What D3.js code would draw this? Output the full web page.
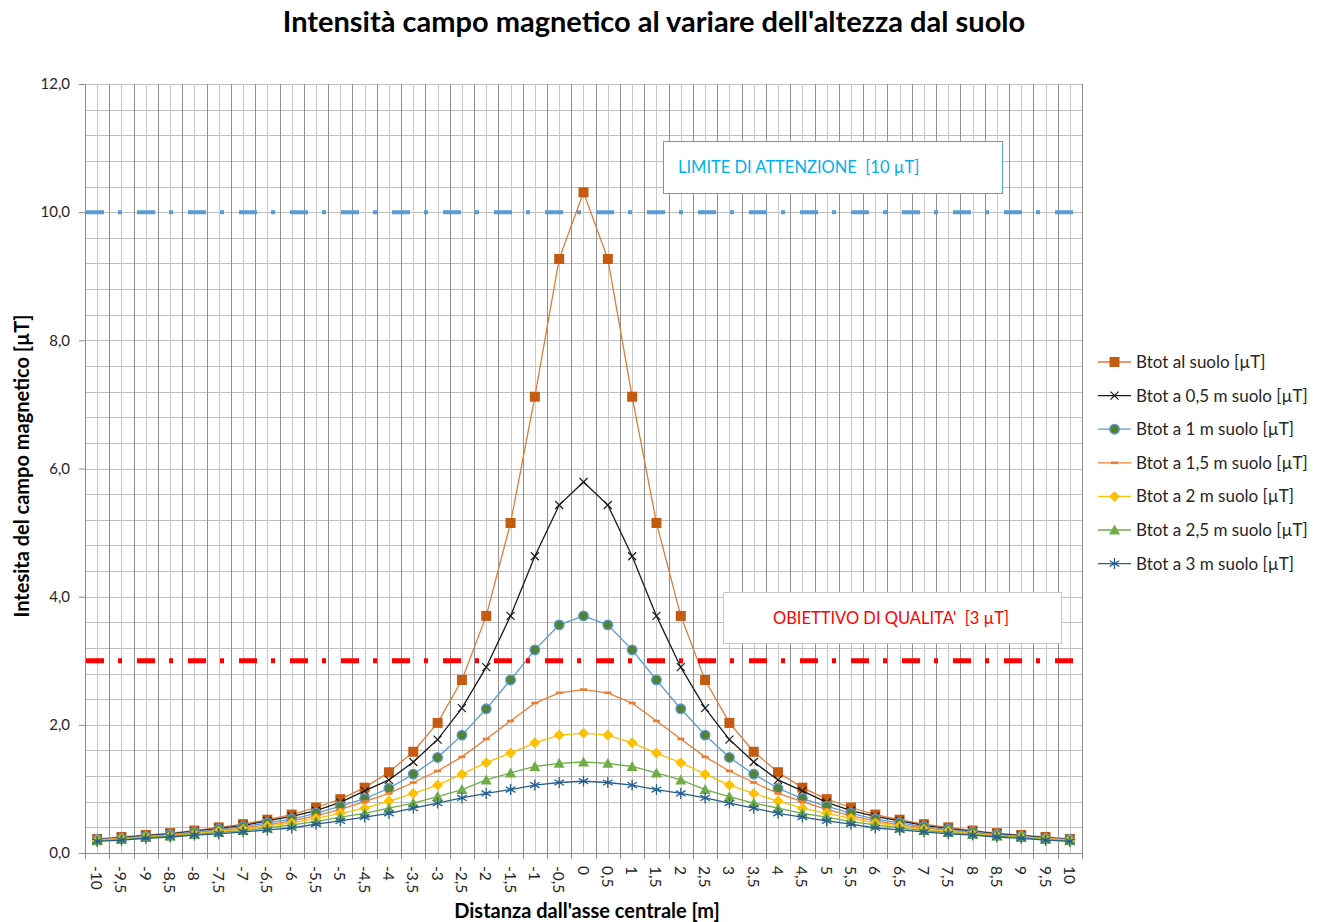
<!DOCTYPE html>
<html>
<head>
<meta charset="utf-8">
<script src="https://cdn.jsdelivr.net/npm/d3@7"></script>
<style>
  body { margin: 0; background: #fff; }
  svg { font-family: Lato, 'Open Sans', sans-serif; }
</style>
</head>
<body>
<svg></svg>
<script>
const categories = ['-10','-9,5','-9','-8,5','-8','-7,5','-7','-6,5','-6','-5,5','-5','-4,5','-4','-3,5','-3','-2,5','-2','-1,5','-1','-0,5','0',
  '0,5','1','1,5','2','2,5','3','3,5','4','4,5','5','5,5','6','6,5','7','7,5','8','8,5','9','9,5','10']

const btotSuolo = [0.22,0.25,0.28,0.31,0.35,0.40,0.45,0.52,0.60,0.71,0.84,1.02,1.26,1.58,2.03,2.70,3.70,5.15,7.12,9.27,10.31,
  9.27,7.12,5.15,3.70,2.70,2.03,1.58,1.26,1.02,0.84,0.71,0.60,0.52,0.45,0.40,0.35,0.31,0.28,0.25,0.22]
const btot05 = [0.21,0.24,0.27,0.30,0.34,0.38,0.43,0.50,0.57,0.66,0.79,0.97,1.14,1.42,1.77,2.26,2.90,3.70,4.63,5.43,5.79,
  5.43,4.63,3.70,2.90,2.26,1.77,1.42,1.14,0.97,0.79,0.66,0.57,0.50,0.43,0.38,0.34,0.30,0.27,0.24,0.21]
const btot1 = [0.21,0.23,0.26,0.29,0.33,0.37,0.41,0.47,0.53,0.62,0.73,0.85,1.01,1.23,1.49,1.84,2.25,2.70,3.17,3.56,3.70,
  3.56,3.17,2.70,2.25,1.84,1.49,1.23,1.01,0.85,0.73,0.62,0.53,0.47,0.41,0.37,0.33,0.29,0.26,0.23,0.21]
const btot15 = [0.20,0.23,0.25,0.28,0.32,0.35,0.39,0.44,0.50,0.58,0.68,0.80,0.93,1.10,1.28,1.50,1.78,2.06,2.34,2.50,2.55,
  2.50,2.34,2.06,1.78,1.50,1.28,1.10,0.93,0.80,0.68,0.58,0.50,0.44,0.39,0.35,0.32,0.28,0.25,0.23,0.20]
const btot2 = [0.20,0.22,0.25,0.27,0.30,0.34,0.37,0.42,0.47,0.54,0.62,0.70,0.81,0.93,1.06,1.23,1.41,1.56,1.72,1.84,1.87,
  1.84,1.72,1.56,1.41,1.23,1.06,0.93,0.81,0.70,0.62,0.54,0.47,0.42,0.37,0.34,0.30,0.27,0.25,0.22,0.20]
const btot25 = [0.19,0.21,0.24,0.26,0.29,0.32,0.35,0.39,0.44,0.49,0.56,0.62,0.70,0.78,0.88,0.99,1.14,1.25,1.35,1.40,1.42,
  1.40,1.35,1.25,1.14,0.99,0.88,0.78,0.70,0.62,0.56,0.49,0.44,0.39,0.35,0.32,0.29,0.26,0.24,0.21,0.19]
const btot3 = [0.18,0.20,0.23,0.25,0.28,0.30,0.33,0.36,0.39,0.45,0.50,0.56,0.62,0.70,0.78,0.86,0.93,0.99,1.06,1.10,1.12,
  1.10,1.06,0.99,0.93,0.86,0.78,0.70,0.62,0.56,0.50,0.45,0.39,0.36,0.33,0.30,0.28,0.25,0.23,0.20,0.18]

const seriesNames = ['Btot al suolo [µT]','Btot a 0,5 m suolo [µT]','Btot a 1 m suolo [µT]','Btot a 1,5 m suolo [µT]',
  'Btot a 2 m suolo [µT]','Btot a 2,5 m suolo [µT]','Btot a 3 m suolo [µT]']
const seriesValues = [btotSuolo, btot05, btot1, btot15, btot2, btot25, btot3]
const yTicks = [0, 2, 4, 6, 8, 10, 12]
const limitValues = [10, 3]
const limitLabels = ['LIMITE DI ATTENZIONE  [10 µT]', "OBIETTIVO DI QUALITA'  [3 µT]"]

const width = 1330
const height = 922
const plotLeft = 85, plotRight = 1082, plotTop = 84, plotBottom = 853

// line colour, marker fill, marker stroke, marker kind
const styles = [
  { line: '#e07b39', fill: '#c55a11', stroke: '#c55a11', kind: 'square' },
  { line: '#1a1a1a', fill: 'none', stroke: '#1a1a1a', kind: 'x' },
  { line: '#5b9bd5', fill: '#548235', stroke: '#5b9bd5', kind: 'circle' },
  { line: '#ed7d31', fill: '#ed7d31', stroke: '#ed7d31', kind: 'dash' },
  { line: '#ffc000', fill: '#ffc000', stroke: '#ffc000', kind: 'diamond' },
  { line: '#70ad47', fill: '#70ad47', stroke: '#70ad47', kind: 'triangle' },
  { line: '#255e91', fill: 'none', stroke: '#255e91', kind: 'star' },
]

const svg = d3.select('svg')
  .attr('width', width)
  .attr('height', height)

const x = d3.scaleBand()
  .domain(categories)
  .range([plotLeft, plotRight])

const y = d3.scaleLinear()
  .domain([0, 12])
  .range([plotBottom, plotTop])

const cx = d => x(d) + x.bandwidth() / 2

// horizontal grid every 0.4
const hGrid = d3.range(0, 12.01, 0.4)
svg.append('g').selectAll('line')
  .data(hGrid)
  .enter()
  .append('line')
  .attr('x1', plotLeft).attr('x2', plotRight)
  .attr('y1', d => Math.round(y(d)) + 0.5).attr('y2', d => Math.round(y(d)) + 0.5)
  .attr('stroke', '#bfbfbf')

// vertical grid: light at category centres, darker at boundaries
svg.append('g').selectAll('line')
  .data(categories)
  .enter()
  .append('line')
  .attr('x1', d => Math.round(cx(d)) + 0.5).attr('x2', d => Math.round(cx(d)) + 0.5)
  .attr('y1', plotTop).attr('y2', plotBottom)
  .attr('stroke', '#c8c8c8')

const bounds = categories.map(d => x(d)).concat([plotRight])
svg.append('g').selectAll('line')
  .data(bounds.slice(1))
  .enter()
  .append('line')
  .attr('x1', d => Math.round(d) + 0.5).attr('x2', d => Math.round(d) + 0.5)
  .attr('y1', plotTop).attr('y2', plotBottom)
  .attr('stroke', '#8f8f8f')

// axes
const yAxis = svg.append('g')
  .attr('transform', `translate(${plotLeft},0)`)
  .call(d3.axisLeft(y).tickValues(yTicks).tickSize(6).tickFormat(d => d3.format('.1f')(d).replace('.', ',')))
yAxis.select('.domain').attr('stroke', '#8c8c8c')
yAxis.selectAll('.tick line').attr('stroke', '#8c8c8c')
yAxis.selectAll('.tick text')
  .attr('x', -15)
  .attr('font-size', 15)
  .attr('font-family', 'Lato, sans-serif')
  .attr('fill', '#262626')

const xAxis = svg.append('g')
  .attr('transform', `translate(0,${plotBottom})`)
  .call(d3.axisBottom(x).tickSize(0).tickSizeOuter(0))
xAxis.select('.domain').attr('stroke', '#8c8c8c')
xAxis.selectAll('.tick text')
  .attr('font-size', 15.5)
  .attr('font-family', 'Lato, sans-serif')
  .attr('fill', '#262626')
  .attr('text-anchor', 'start')
  .attr('dy', null)
  .attr('transform', 'translate(0,13) rotate(90)')
  .attr('x', 0).attr('y', 0)
  .attr('dominant-baseline', 'central')

svg.append('g').selectAll('line')
  .data(bounds)
  .enter()
  .append('line')
  .attr('x1', d => Math.round(d) + 0.5).attr('x2', d => Math.round(d) + 0.5)
  .attr('y1', plotBottom).attr('y2', plotBottom + 6)
  .attr('stroke', '#8c8c8c')

// markers
const drawMarker = (g, kind, s) => {
  if (kind === 'square') {
    g.append('rect').attr('x', -5).attr('y', -5).attr('width', 10).attr('height', 10)
      .attr('fill', s.fill)
  } else if (kind === 'x') {
    g.append('path').attr('d', 'M-4,-4L4,4M-4,4L4,-4').attr('stroke', s.stroke).attr('stroke-width', 1.2)
  } else if (kind === 'circle') {
    g.append('circle').attr('r', 4.8).attr('fill', s.fill).attr('stroke', s.stroke).attr('stroke-width', 1.3)
  } else if (kind === 'dash') {
    g.append('rect').attr('x', -3.5).attr('y', -1.3).attr('width', 7).attr('height', 2.6).attr('fill', s.fill)
  } else if (kind === 'diamond') {
    g.append('path').attr('d', 'M0,-5.5L5.5,0L0,5.5L-5.5,0Z').attr('fill', s.fill)
  } else if (kind === 'triangle') {
    g.append('path').attr('d', 'M0,-5.5L5.5,4.5L-5.5,4.5Z').attr('fill', s.fill)
  } else if (kind === 'star') {
    g.append('path').attr('d', 'M0,-5.5V5.5M-4.8,-2.8L4.8,2.8M-4.8,2.8L4.8,-2.8')
      .attr('stroke', s.stroke).attr('stroke-width', 1.3)
  }
}

const line = d3.line()
  .x((d, i) => cx(categories[i]))
  .y(d => y(d))

seriesValues.forEach((values, k) => {
  const s = styles[k]
  const g = svg.append('g')
  g.append('path')
    .datum(values)
    .attr('d', line)
    .attr('fill', 'none')
    .attr('stroke', s.line)
    .attr('stroke-width', 1.3)
  g.selectAll('g')
    .data(values)
    .enter()
    .append('g')
    .attr('transform', (d, i) => `translate(${cx(categories[i])},${y(d)})`)
    .each(function () { drawMarker(d3.select(this), s.kind, s) })
})

// limit lines
const limitColors = ['#5b9bd5', '#ff0000']
const limitWidths = [4, 5]
svg.append('g').selectAll('line')
  .data(limitValues)
  .enter()
  .append('line')
  .attr('x1', plotLeft + 1).attr('x2', plotRight)
  .attr('y1', d => y(d)).attr('y2', d => y(d))
  .attr('stroke', (d, i) => limitColors[i])
  .attr('stroke-width', (d, i) => limitWidths[i])
  .attr('stroke-dasharray', '18,14,4,15')

// label boxes
const boxes = [
  { x: 663, y: 141, w: 339, h: 52, stroke: '#5b9bd5', color: '#00b0f0', anchor: 'start', tx: 678 },
  { x: 723, y: 592, w: 338, h: 51, stroke: '#c8c8c8', color: '#ff0000', anchor: 'middle', tx: 891 },
]
boxes.forEach((b, i) => {
  svg.append('rect')
    .attr('x', b.x + 0.5).attr('y', b.y + 0.5)
    .attr('width', b.w).attr('height', b.h)
    .attr('fill', '#fff')
    .attr('stroke', b.stroke)
  svg.append('text')
    .attr('x', b.tx).attr('y', b.y + b.h / 2 + 6)
    .attr('text-anchor', b.anchor)
    .attr('font-size', 16.5)
    .attr('fill', b.color)
    .style('white-space', 'pre')
    .text(limitLabels[i])
})

// legend
const legend = svg.append('g')
  .selectAll('g')
  .data(seriesNames)
  .enter()
  .append('g')
  .attr('transform', (d, i) => `translate(1098,${362 + i * 33.6})`)
legend.append('line')
  .attr('x1', 0).attr('x2', 33)
  .attr('stroke', (d, i) => styles[i].line)
  .attr('stroke-width', 1.3)
legend.append('g')
  .attr('transform', 'translate(16.5,0)')
  .each(function (d, i) { drawMarker(d3.select(this), styles[i].kind, styles[i]) })
legend.append('text')
  .attr('x', 38).attr('y', 6)
  .attr('font-size', 17)
  .attr('fill', '#262626')
  .text(d => d)

// titles
svg.append('text')
  .attr('x', 654).attr('y', 32)
  .attr('text-anchor', 'middle')
  .attr('font-size', 29)
  .attr('font-weight', 'bold')
  .attr('fill', '#000')
  .text("Intensità campo magnetico al variare dell'altezza dal suolo")

svg.append('text')
  .attr('x', 587).attr('y', 918)
  .attr('text-anchor', 'middle')
  .attr('font-size', 20)
  .attr('font-weight', 'bold')
  .attr('fill', '#000')
  .text("Distanza dall'asse centrale [m]")

svg.append('text')
  .attr('transform', 'translate(29,466) rotate(-90)')
  .attr('text-anchor', 'middle')
  .attr('font-size', 20)
  .attr('font-weight', 'bold')
  .attr('fill', '#000')
  .text('Intesita del campo magnetico [µT]')
</script>
</body>
</html>
